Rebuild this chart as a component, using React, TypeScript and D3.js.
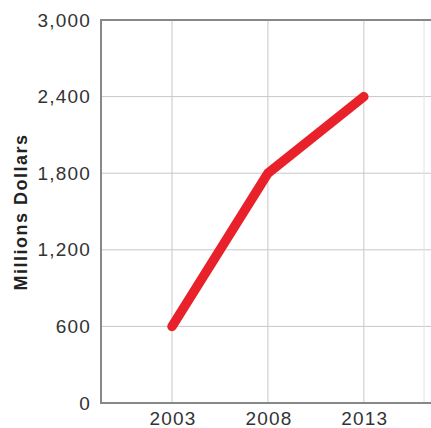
import React from "react";
import * as d3 from "d3";

const years = [2003, 2008, 2013];
const values = [600, 1800, 2400];
const yTicks = [0, 600, 1200, 1800, 2400, 3000];
const yTitle = "Millions Dollars";

const W = 431;
const H = 428;

export default function App() {
  const x = d3.scaleLinear().domain([1999.3, 2016.5]).range([101, 431]);
  const y = d3.scaleLinear().domain([0, 3000]).range([403, 20]);
  const fmt = d3.format(",");
  const line = d3
    .line<number>()
    .x((_, i) => x(years[i]))
    .y((d) => y(d));
  const font = "'Liberation Sans', Arial, Helvetica, sans-serif";
  return (
    <svg
      width={W}
      height={H}
      style={{ position: "absolute", left: 0, top: 0, background: "#fff" }}
    >
      {yTicks.map((t) => (
        <line key={"h" + t} x1={x.range()[0]} x2={W} y1={y(t)} y2={y(t)} stroke="#c8c8c8" strokeWidth={1} />
      ))}
      {years.map((yr) => (
        <line key={"v" + yr} x1={x(yr)} x2={x(yr)} y1={y(3000)} y2={y(0)} stroke="#c8c8c8" strokeWidth={1} />
      ))}
      <line x1={424} x2={424} y1={y(3000)} y2={y(0)} stroke="#e4e4e4" strokeWidth={1} />
      <line x1={x.range()[0]} x2={W} y1={y(3000)} y2={y(3000)} stroke="#888" strokeWidth={2} />
      <line x1={x.range()[0]} x2={W} y1={y(0)} y2={y(0)} stroke="#888" strokeWidth={2} />
      <line x1={x.range()[0]} x2={x.range()[0]} y1={y(3000) - 1} y2={y(0) + 1} stroke="#888" strokeWidth={2} />
      {yTicks.map((t) => (
        <text
          key={"yl" + t}
          x={91}
          y={y(t)}
          dy="0.35em"
          textAnchor="end"
          fontFamily={font}
          fontSize={19}
          letterSpacing={1.2}
          fill="#333"
        >
          {fmt(t)}
        </text>
      ))}
      {years.map((yr) => (
        <text
          key={"xl" + yr}
          x={x(yr) + 1}
          y={425}
          textAnchor="middle"
          fontFamily={font}
          fontSize={19}
          letterSpacing={1.2}
          fill="#333"
        >
          {yr}
        </text>
      ))}
      <text
        transform={`translate(27, 212) rotate(-90)`}
        textAnchor="middle"
        fontFamily={font}
        fontSize={18}
        fontWeight="bold"
        letterSpacing={1.5}
        fill="#222"
      >
        {yTitle}
      </text>
      <path
        d={line(values) || ""}
        fill="none"
        stroke="#e8212b"
        strokeWidth={9.5}
        strokeLinecap="round"
        strokeLinejoin="round"
      />
    </svg>
  );
}
